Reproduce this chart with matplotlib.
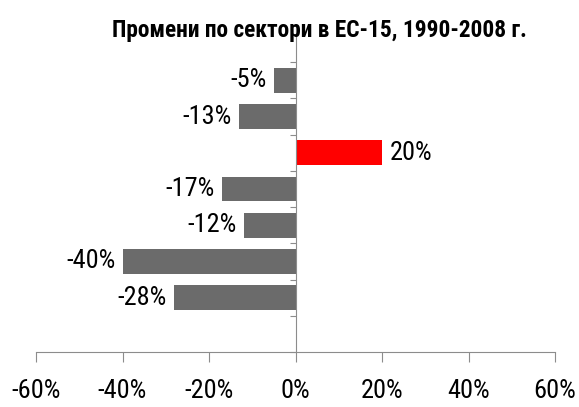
import numpy as np
import matplotlib.pyplot as plt

# changes by sector, top to bottom (EU-15, 1990-2008)
values = [-5, -13, 20, -17, -12, -40, -28]
colors = ['#6b6b6b', '#6b6b6b', '#ff0000', '#6b6b6b', '#6b6b6b', '#6b6b6b', '#6b6b6b']
xticks = [-60, -40, -20, 0, 20, 40, 60]
title = 'Промени по сектори в ЕС-15, 1990-2008 г.'

plt.rcParams['font.family'] = ['Roboto Condensed', 'DejaVu Sans']

fig = plt.figure(figsize=(5.79, 4.07), dpi=100)
ax = fig.add_axes([36 / 579, 1 - 352 / 407, (555 - 36) / 579, (352 - 26) / 407])

n_slots = len(values) + 2  # one empty slot above and below
pos = np.arange(1, len(values) + 1)
ax.barh(pos, values, height=0.69, color=colors, zorder=2)
ax.set_ylim(n_slots - 0.5, -0.5)
ax.set_xlim(-60, 60)

for y, v in zip(pos, values):
    off = 1.7 if v > 0 else -1.7
    ax.text(v + off, y, f'{v}%', ha='left' if v > 0 else 'right', va='center',
            fontsize=19)

axis_col = '#8c8c8c'
for s in ['top', 'right']:
    ax.spines[s].set_visible(False)
ax.spines['left'].set_position(('data', 0))
ax.spines['left'].set_color(axis_col)
ax.spines['bottom'].set_color(axis_col)

ax.set_yticks(np.arange(0.5, n_slots - 0.5 + 0.01, 1))
ax.set_yticklabels([])
ax.tick_params(axis='y', length=4.5, color=axis_col, direction='out')

ax.set_xticks(xticks)
ax.set_xticklabels([f'{t}%' for t in xticks], fontsize=19)
ax.tick_params(axis='x', length=7.2, color=axis_col, pad=12)

fig.text(0.552, 1 - 37 / 407, title, ha='center', va='baseline', fontsize=16.8,
         fontweight='bold')

fig.savefig('out.png', dpi=100)
